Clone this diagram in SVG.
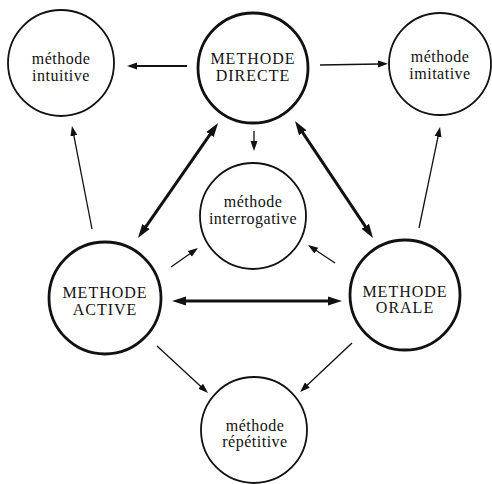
<svg xmlns="http://www.w3.org/2000/svg" width="492" height="484" viewBox="0 0 492 484">
<style>
.n{fill:#fff;stroke:#111;stroke-width:1.8}
.N{fill:#fff;stroke:#111;stroke-width:2.8}
text{font-family:"Liberation Serif","Times New Roman",serif;font-size:16px;fill:#111;text-anchor:middle}
.lc{letter-spacing:0.5px}
.uc{letter-spacing:1px}
.c{stroke:#111;fill:none}
.t{stroke-width:1.3;marker-end:url(#ah)}
.m{stroke-width:2;marker-end:url(#ah)}
.b{stroke-width:3;marker-start:url(#ahb);marker-end:url(#ahb)}
</style>
<defs>
<marker id="ah" markerUnits="userSpaceOnUse" markerWidth="12" markerHeight="10" viewBox="0 -5 12 10" refX="1" refY="0" orient="auto-start-reverse"><path d="M0,-3.5 L10,0 L0,3.5 z" fill="#111"/></marker>
<marker id="ahb" markerUnits="userSpaceOnUse" markerWidth="16" markerHeight="12" viewBox="0 -6 16 12" refX="1" refY="0" orient="auto-start-reverse"><path d="M0,-4.5 L14,0 L0,4.5 z" fill="#111"/></marker>
</defs>
<g id="connectors">
<line class="c m" x1="187" y1="66" x2="136" y2="66"/>
<line class="c t" x1="320" y1="65" x2="379" y2="64"/>
<line class="c t" x1="254" y1="131" x2="254" y2="142"/>
<line class="c t" x1="92" y1="229" x2="73.7" y2="134.8"/>
<line class="c b" x1="145.4" y1="227.3" x2="210.6" y2="133.7"/>
<line class="c b" x1="302.2" y1="131.8" x2="365.8" y2="227.2"/>
<line class="c t" x1="419" y1="228" x2="438.2" y2="135.8"/>
<line class="c t" x1="171" y1="267" x2="190.6" y2="253.2"/>
<line class="c t" x1="335" y1="263" x2="315.5" y2="250"/>
<line class="c b" x1="185" y1="301" x2="329" y2="301"/>
<line class="c t" x1="157" y1="346" x2="201.4" y2="386.9"/>
<line class="c t" x1="352" y1="343" x2="306.6" y2="385.8"/>
</g>
<g id="intuitive"><circle class="n" cx="61" cy="63" r="53"/><text class="lc" x="61" y="64">méthode</text><text class="lc" x="61" y="81">intuitive</text></g>
<g id="directe"><circle class="N" cx="253" cy="68" r="55"/><text class="uc" x="253" y="64">METHODE</text><text class="uc" x="253" y="81">DIRECTE</text></g>
<g id="imitative"><circle class="n" cx="440" cy="64" r="51"/><text class="lc" x="440" y="62">méthode</text><text class="lc" x="440" y="79">imitative</text></g>
<g id="interrogative"><circle class="n" cx="253" cy="216" r="53"/><text class="lc" x="253" y="207">méthode</text><text class="lc" x="253" y="224">interrogative</text></g>
<g id="active"><circle class="N" cx="105" cy="298" r="56"/><text class="uc" x="105" y="298">METHODE</text><text class="uc" x="105" y="315">ACTIVE</text></g>
<g id="orale"><circle class="N" cx="405" cy="295" r="55"/><text class="uc" x="405" y="297">METHODE</text><text class="uc" x="405" y="313">ORALE</text></g>
<g id="repetitive"><circle class="n" cx="254" cy="430" r="53"/><text class="lc" x="255" y="431">méthode</text><text class="lc" x="255" y="447">répétitive</text></g>
</svg>
